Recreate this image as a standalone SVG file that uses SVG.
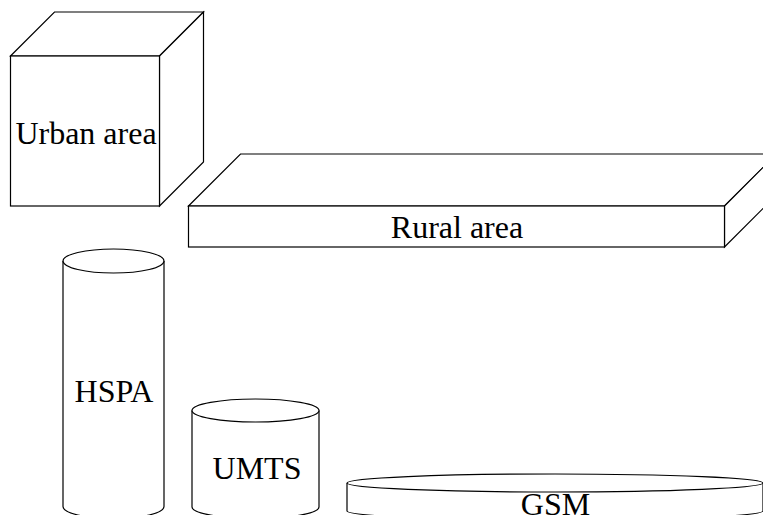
<svg xmlns="http://www.w3.org/2000/svg" width="763" height="515" viewBox="0 0 763 515">
<style>
.s{fill:#fff;stroke:#000;stroke-width:1.2;stroke-linejoin:miter}
.t{font-family:"Liberation Serif","Times New Roman",serif;font-size:32px;fill:#000;text-anchor:middle}
</style>
<rect width="763" height="515" fill="#fff"/>
<g id="urban">
<path class="s" d="M10.5,56 L54.5,12 L203.5,12 L159.5,56 Z"/>
<path class="s" d="M159.5,56 L203.5,12 L203.5,162 L159.5,206 Z"/>
<rect class="s" x="10.5" y="56" width="149" height="150"/>
<text class="t" x="86" y="144">Urban area</text>
</g>
<g id="rural">
<path class="s" d="M188.5,206 L240.5,154 L776.5,154 L724.5,206 Z"/>
<path class="s" d="M724.5,206 L776.5,154 L776.5,195 L724.5,247 Z"/>
<rect class="s" x="188.5" y="206" width="536" height="41"/>
<text class="t" x="457" y="238">Rural area</text>
</g>
<g id="hspa">
<path class="s" d="M63,261 L63,506.5 A50.5,12 0 0 0 164,506.5 L164,261"/>
<ellipse class="s" cx="113.5" cy="261" rx="50.5" ry="12"/>
<text class="t" x="114" y="402">HSPA</text>
</g>
<g id="umts">
<path class="s" d="M192,410.5 L192,507 A63.5,11.5 0 0 0 319,507 L319,410.5"/>
<ellipse class="s" cx="255.5" cy="410.5" rx="63.5" ry="11.5"/>
<text class="t" x="257" y="479">UMTS</text>
</g>
<g id="gsm">
<path class="s" d="M347,483 L347,511 A208,9 0 0 0 763,511 L763,483"/>
<ellipse class="s" cx="555" cy="483" rx="208" ry="9"/>
<text class="t" x="555.5" y="515">GSM</text>
</g>
<g id="connectors"></g>
</svg>
